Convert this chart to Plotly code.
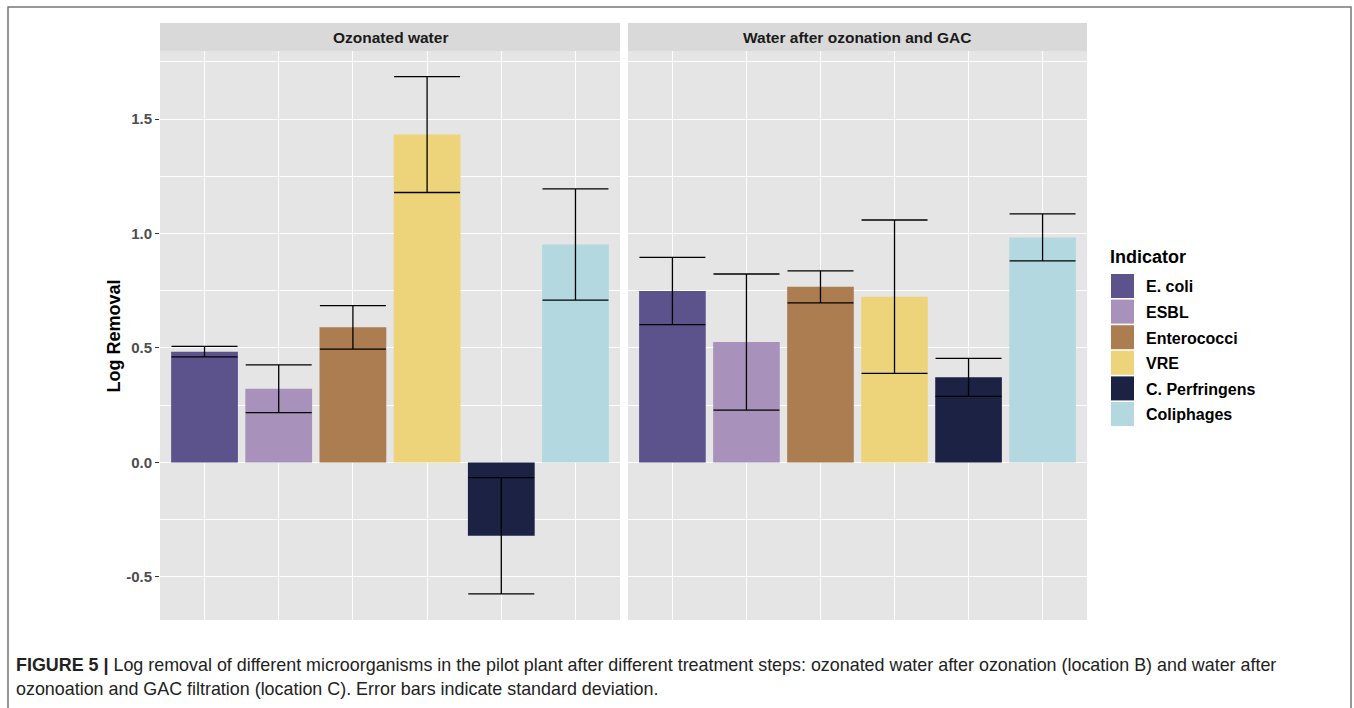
import plotly.graph_objects as go

# ---- data ----
indicators = ["E. coli", "ESBL", "Enterococci", "VRE", "C. Perfringens", "Coliphages"]
colors = ["#5c528c", "#a891bb", "#ab7d51", "#edd47a", "#1b2244", "#b3d8e0"]
panel_titles = ["Ozonated water", "Water after ozonation and GAC"]
ozonated_mean = [0.484, 0.322, 0.590, 1.432, -0.320, 0.952]
ozonated_sd = [0.023, 0.104, 0.095, 0.253, 0.254, 0.243]
gac_mean = [0.749, 0.526, 0.767, 0.724, 0.372, 0.983]
gac_sd = [0.147, 0.297, 0.070, 0.335, 0.083, 0.103]
y_ticks = [-0.5, 0.0, 0.5, 1.0, 1.5]
y_tick_labels = ["-0.5", "0.0", "0.5", "1.0", "1.5"]

W, H = 1354, 708
FONT = "Liberation Sans, Arial, sans-serif"

def px_x(p):
    return p / W

def px_y(p):
    return 1 - p / H

fig = go.Figure()
for i, (m, s) in enumerate([(ozonated_mean, ozonated_sd), (gac_mean, gac_sd)]):
    fig.add_trace(go.Bar(
        x=indicators, y=m,
        marker=dict(color=colors, line=dict(width=0)),
        error_y=dict(type="data", array=s, visible=True, color="black",
                     thickness=1.3, width=33),
        xaxis="x" if i == 0 else "x2",
        yaxis="y" if i == 0 else "y2",
        showlegend=False,
    ))

panel_x = [(160, 620), (628, 1087)]
top_px, bot_px, strip_top = 51, 620, 23

ax_common = dict(
    type="category", categoryorder="array", categoryarray=indicators,
    range=[-0.6, 5.6], showgrid=True, gridcolor="white", gridwidth=1.1,
    showticklabels=False, ticks="", zeroline=False, showline=False,
)
yr = [-0.688, 1.797]
y_common = dict(
    range=yr, tickmode="array", tickvals=y_ticks, ticktext=y_tick_labels,
    showgrid=True, gridcolor="white", gridwidth=1.1, zeroline=False,
    minor=dict(tickmode="linear", tick0=0.25, dtick=0.5, showgrid=True,
               gridcolor="white", gridwidth=0.5, ticks=""),
    domain=[px_y(bot_px), px_y(top_px)],
)

fig.update_layout(
    width=W, height=H, margin=dict(l=0, r=0, t=0, b=0),
    paper_bgcolor="white", plot_bgcolor="#e5e5e5",
    bargap=0.1, font=dict(family=FONT),
    xaxis=dict(domain=[px_x(panel_x[0][0]), px_x(panel_x[0][1])], anchor="y", **ax_common),
    xaxis2=dict(domain=[px_x(panel_x[1][0]), px_x(panel_x[1][1])], anchor="y2", **ax_common),
    yaxis=dict(anchor="x", ticks="outside", ticklen=4, tickwidth=1.1, tickcolor="#333333",
               tickfont=dict(family=FONT, size=15, color="#4d4d4d", weight="bold"), **y_common),
    yaxis2=dict(anchor="x2", matches="y", showticklabels=False, ticks="", **y_common),
)

shapes = []
annotations = []
# strips
for (x0, x1), title in zip(panel_x, panel_titles):
    shapes.append(dict(type="rect", xref="paper", yref="paper",
                       x0=px_x(x0), x1=px_x(x1), y0=px_y(top_px), y1=px_y(strip_top),
                       fillcolor="#d9d9d9", line=dict(width=0), layer="below"))
    annotations.append(dict(xref="paper", yref="paper", x=px_x((x0 + x1) / 2),
                            y=px_y((top_px + strip_top) / 2), text=f"<b>{title}</b>",
                            showarrow=False, xanchor="center", yanchor="middle",
                            font=dict(family=FONT, size=15.5, color="#1a1a1a")))

# y-axis title
annotations.append(dict(xref="paper", yref="paper", x=px_x(113), y=px_y((top_px + bot_px) / 2),
                        text="<b>Log Removal</b>", textangle=-90, showarrow=False,
                        xanchor="center", yanchor="middle",
                        font=dict(family=FONT, size=18, color="black")))

# legend (manual)
annotations.append(dict(xref="paper", yref="paper", x=px_x(1108), y=px_y(257),
                        text="<b>Indicator</b>", showarrow=False, xanchor="left",
                        yanchor="middle", font=dict(family=FONT, size=18, color="black")))
for i, (name, col) in enumerate(zip(indicators, colors)):
    cy = 286 + 25.6 * i
    shapes.append(dict(type="rect", xref="paper", yref="paper",
                       x0=px_x(1111), x1=px_x(1134), y0=px_y(cy + 12), y1=px_y(cy - 12),
                       fillcolor=col, line=dict(width=0)))
    annotations.append(dict(xref="paper", yref="paper", x=px_x(1144), y=px_y(cy + 1),
                            text=f"<b>{name}</b>", showarrow=False, xanchor="left",
                            yanchor="middle", font=dict(family=FONT, size=16, color="black")))

# frame
shapes.append(dict(type="rect", xref="paper", yref="paper",
                   x0=px_x(8), x1=px_x(1351), y0=px_y(720), y1=px_y(7),
                   line=dict(color="#777777", width=1.5), fillcolor="rgba(0,0,0,0)"))

# caption
annotations.append(dict(xref="paper", yref="paper", x=px_x(14), y=px_y(665),
                        text="<b>FIGURE 5 |</b> Log removal of different microorganisms in the pilot plant after different treatment steps: ozonated water after ozonation (location B) and water after",
                        showarrow=False, xanchor="left", yanchor="middle",
                        font=dict(family=FONT, size=17.9, color="#222222")))
annotations.append(dict(xref="paper", yref="paper", x=px_x(14), y=px_y(689),
                        text="ozonoation and GAC filtration (location C). Error bars indicate standard deviation.",
                        showarrow=False, xanchor="left", yanchor="middle",
                        font=dict(family=FONT, size=17.9, color="#222222")))

fig.update_layout(shapes=shapes, annotations=annotations)
fig.write_html("out.html", config={"displayModeBar": False},
               post_script="document.body.style.margin='0px';document.body.style.overflow='hidden';")
